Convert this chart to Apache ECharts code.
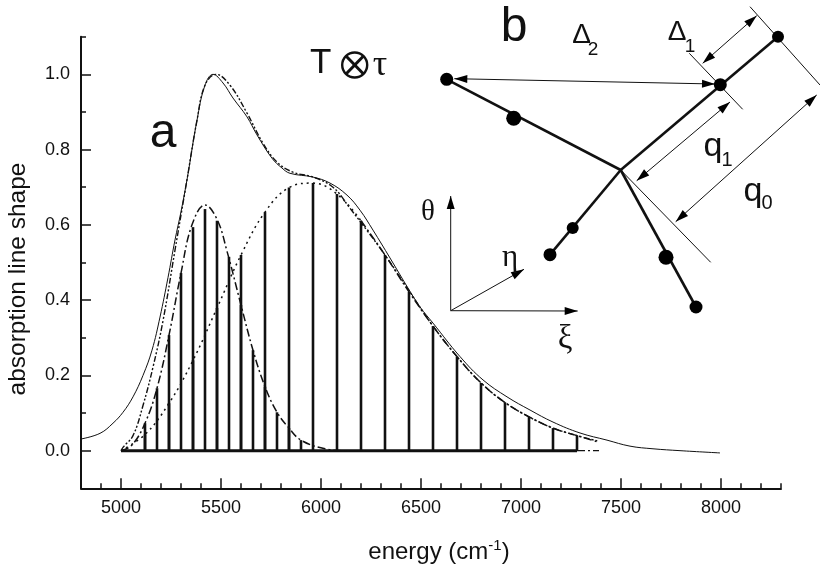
<!DOCTYPE html>
<html><head><meta charset="utf-8">
<style>html,body{margin:0;padding:0;background:#fff}#c{width:820px;height:569px}</style>
<script src="https://cdn.jsdelivr.net/npm/echarts@6/dist/echarts.min.js"></script>
</head><body><div id="c"></div>
<script>
const xMajorTicks=[5000,5500,6000,6500,7000,7500,8000];
const xMinorTicks=[4800,4900,5100,5200,5300,5400,5600,5700,5800,5900,6100,6200,6300,6400,6600,6700,6800,6900,7100,7200,7300,7400,7600,7700,7800,7900,8100,8200,8300];
const yMajorTicks=[0,0.2,0.4,0.6,0.8,1.0];
const yMinorTicks=[-0.1,0.1,0.3,0.5,0.7,0.9,1.1];
const measured=[[4800,.031],[4895,.046],[4960,.073],[5010,.102],[5060,.143],[5110,.2],[5155,.267],[5195,.355],[5235,.46],[5270,.56],[5300,.635],[5330,.72],[5380,.878],[5420,.971],[5460,1.0],[5510,.977],[5560,.937],[5630,.887],[5680,.839],[5755,.777],[5805,.751],[5845,.737],[5960,.727],[6045,.711],[6130,.679],[6195,.639],[6260,.586],[6345,.512],[6435,.432],[6495,.382],[6560,.339],[6695,.25],[6810,.188],[6930,.143],[7045,.108],[7160,.076],[7295,.047],[7430,.028],[7545,.012],[7660,.005],[7795,0],[7995,-.006]];
const totalEnvelope=[[5000,0],[5012,.01],[5060,.04],[5110,.12],[5160,.222],[5210,.345],[5270,.533],[5330,.72],[5380,.878],[5420,.971],[5475,1.0],[5545,.971],[5630,.897],[5710,.817],[5780,.767],[5860,.74],[5960,.727],[6060,.70],[6145,.644],[6230,.585],[6320,.52],[6440,.425],[6560,.331],[6680,.25],[6800,.18],[6920,.128],[7040,.09],[7160,.06],[7280,.04],[7390,.025]];
const lowEnvelope=[[5000,0],[5055,.015],[5120,.073],[5180,.166],[5240,.307],[5300,.472],[5355,.6],[5420,.653],[5480,.615],[5530,.53],[5600,.387],[5660,.267],[5720,.17],[5780,.102],[5840,.06],[5900,.028],[6020,.005],[6130,0],[7280,0]];
const highEnvelope=[[5000,0],[5120,.043],[5240,.126],[5360,.24],[5480,.379],[5600,.52],[5720,.634],[5840,.699],[5960,.711],[6080,.682],[6200,.611]];
const highTail=[[6200,.611],[6320,.52],[6440,.422],[6560,.331],[6680,.25],[6800,.18],[6920,.128],[7040,.09],[7160,.06],[7280,.04],[7390,.022]];
const baselineTail=[[7280,0],[7390,0]];
const lowSticks=[[5120,.073],[5180,.166],[5240,.307],[5300,.472],[5360,.594],[5420,.642],[5480,.611],[5540,.515],[5600,.387],[5660,.267],[5720,.17],[5780,.102],[5840,.06],[5900,.028]];
const highSticks=[[5120,.043],[5240,.126],[5360,.24],[5480,.379],[5600,.52],[5720,.634],[5840,.699],[5960,.711],[6080,.682],[6200,.611],[6320,.52],[6440,.422],[6560,.331],[6680,.25],[6800,.18],[6920,.128],[7040,.09],[7160,.06],[7280,.04]];
const baseline=[[5000,0],[7280,0]];

const INK='#111';
const sans='"Liberation Sans",Arial,sans-serif', serif='"Liberation Serif","DejaVu Serif",serif';
function lineS(data,width,dash,smooth){return {type:'line',data,showSymbol:false,symbol:'none',silent:true,animation:false,smooth:smooth?0.4:false,lineStyle:{color:INK,width,type:dash},z:3};}
function barS(data){return {type:'bar',data,barWidth:2.6,barGap:'-100%',silent:true,animation:false,itemStyle:{color:INK},z:2};}

// schematic (annotation, not data)
const g=[];
function seg(a,b,w){g.push({type:'line',shape:{x1:a[0],y1:a[1],x2:b[0],y2:b[1]},style:{stroke:INK,lineWidth:w},silent:true});}
function dot(p,r){g.push({type:'circle',shape:{cx:p[0],cy:p[1],r},style:{fill:'#000'},z:5,silent:true});}
function head(tip,from,len,hw){const dx=from[0]-tip[0],dy=from[1]-tip[1],d=Math.hypot(dx,dy),u=dx/d,v=dy/d;
 g.push({type:'polygon',shape:{points:[tip,[tip[0]+u*len-v*hw,tip[1]+v*len+u*hw],[tip[0]+u*len+v*hw,tip[1]+v*len-u*hw]]},style:{fill:'#000'},silent:true});}
function arrow(a,b,both){seg(a,b,1);head(b,a,13,4);if(both)head(a,b,13,4);}
function txt(s,x,y,size,font,extra){g.push({type:'text',x,y,silent:true,style:Object.assign({text:s,fill:INK,font:size+'px '+font,textAlign:'center',textVerticalAlign:'middle'},extra||{})});}

const C=[620.7,170];
seg(C,[778,36.7],2.6);seg(C,[446.7,79.3],2.6);seg(C,[550,254.7],2.6);seg(C,[696,307],2.6);
[[[778,36.7],6],[[720.3,84.7],6.5],[[446.7,79.3],6.5],[[513.7,118.3],7.5],[[572.7,228],6],[[550,254.7],6.5],[[666,257.3],7.5],[[696,307],6.5]].forEach(d=>dot(d[0],d[1]));
seg([750,6.7],[820,85],1);seg([689.3,53.3],[742.7,109.3],1);seg(C,[710.7,262.3],1);
arrow([702.7,63.3],[756.7,15.7],true);arrow([636.7,180.7],[730,102],true);arrow([675.7,221.7],[816.7,95],true);arrow([454.3,78.7],[715,84],true);
const O=[450.7,310.7];arrow(O,[450.7,196]);arrow(O,[524,269.3]);arrow(O,[577.7,311]);
txt('θ',428,212,29,serif);txt('η',510,258,31,serif);txt('ξ',565,339,33,serif);
txt('a',163,134,48,sans);txt('b',514,28,48,sans);
txt('T',320.7,63,35,sans);txt('τ',380,66,36,serif);
g.push({type:'circle',shape:{cx:354.7,cy:65,r:12.5},style:{fill:'none',stroke:INK,lineWidth:2.4},silent:true});
seg([346,56],[363.5,74],3);seg([363.5,56],[346,74],3);
txt('Δ',581.5,35,28,sans);txt('2',593,50,19,sans);
txt('Δ',677,32,28,sans);txt('1',690,47,19,sans);
txt('q',713,147,34,sans);txt('1',727,160,20,sans);
txt('q',753,192,34,sans);txt('0',767,203,20,sans);

const labelStyle={color:INK,fontFamily:sans,fontSize:18};
const chart=echarts.init(document.getElementById('c'),null,{renderer:'canvas'});
chart.setOption({
 animation:false,backgroundColor:'#fff',
 grid:{left:81,right:39,top:36.7,bottom:80.7,outerBoundsMode:'none'},
 xAxis:[{type:'value',min:4800,max:8300,position:'bottom',splitLine:{show:false},
   axisLine:{onZero:false,lineStyle:{color:INK,width:2}},
   axisTick:{inside:true,length:10,customValues:xMajorTicks,lineStyle:{color:INK,width:1.5}},
   axisLabel:Object.assign({customValues:xMajorTicks,margin:11,showMinLabel:true,showMaxLabel:true,formatter:v=>String(v)},labelStyle),
   name:'energy (cm{sup|-1})',nameLocation:'middle',nameGap:50,
   nameTextStyle:{color:INK,fontFamily:sans,fontSize:24,padding:[0,0,0,16],rich:{sup:{fontSize:15,fontFamily:sans,color:INK,verticalAlign:'top',padding:[0,0,13,0]}}}},
  {type:'value',min:4800,max:8300,position:'bottom',splitLine:{show:false},
   axisLine:{show:false,onZero:false},axisLabel:{show:false},
   axisTick:{inside:true,length:5,customValues:xMinorTicks,lineStyle:{color:INK,width:1.5}}}],
 yAxis:[{type:'value',min:-0.1,max:1.1,position:'left',splitLine:{show:false},
   axisLine:{onZero:false,lineStyle:{color:INK,width:2}},
   axisTick:{inside:true,length:10,customValues:yMajorTicks,lineStyle:{color:INK,width:1.5}},
   axisLabel:Object.assign({customValues:yMajorTicks,margin:11,formatter:v=>v.toFixed(1)},labelStyle),
   name:'absorption line shape',nameLocation:'middle',nameGap:50,nameRotate:90,
   nameTextStyle:{color:INK,fontFamily:sans,fontSize:24.5,padding:[0,33,0,0]}},
  {type:'value',min:-0.1,max:1.1,position:'left',splitLine:{show:false},
   axisLine:{show:false,onZero:false},axisLabel:{show:false},
   axisTick:{inside:true,length:5,customValues:yMinorTicks,lineStyle:{color:INK,width:1.5}}}],
 series:[
  barS(lowSticks),barS(highSticks),
  lineS(baseline,3,'solid',false),
  lineS(measured,1,'solid',true),
  lineS(totalEnvelope,1.4,[6,2,2,2,2,2],true),
  lineS(lowEnvelope,1.5,[8,3,2,3],true),
  lineS(highEnvelope,1.5,[2,4],true),
  lineS(highTail,1.5,[8,3,2,3],true),
  lineS(baselineTail,1.2,[8,3,2,3],false)
 ],
 graphic:{elements:g}
});
</script></body></html>
